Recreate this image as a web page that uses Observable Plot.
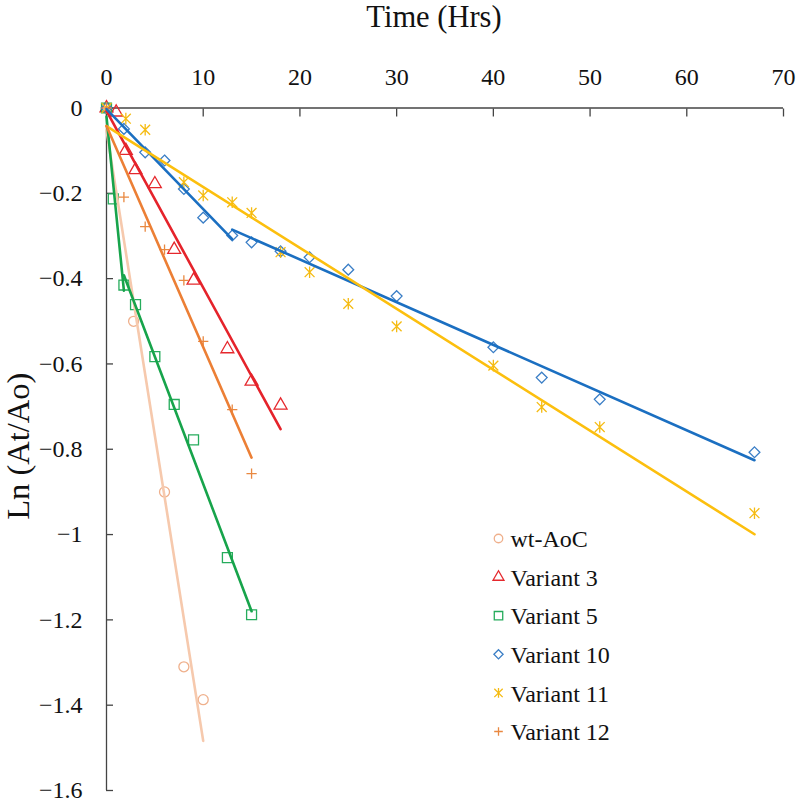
<!DOCTYPE html>
<html><head><meta charset="utf-8">
<script src="https://cdn.jsdelivr.net/npm/d3@7"></script>
<script src="https://cdn.jsdelivr.net/npm/@observablehq/plot@0.6"></script>
<style>
html,body{margin:0;padding:0;background:#fff;}
#chart svg{display:block;}
#chart svg text{font-family:"Liberation Serif","Times New Roman",serif;}
</style>
</head><body><div id="chart"></div>
<script>
// ---------- data ----------
const seriesNames   = ["wt-AoC", "Variant 3", "Variant 5", "Variant 10", "Variant 11", "Variant 12"];
const lineColors    = ["#f6c9ad", "#e5232b", "#17a44b", "#1b6fc1", "#fcbf0e", "#ec7f35"];
const markerColors  = ["#efb08c", "#e5282d", "#26ac5c", "#3a7ec6", "#f5bb12", "#e98840"];
const seriesSymbols = ["circle", "triangle", "square", "diamond", "star", "plus"];
const segmentBreaks = [null, null, 1.8, 13, null, null]; // piecewise fits (point at break shared)

const wtTime   = [0, 2.8, 6, 8, 10];
const wtValue  = [0, -0.50, -0.90, -1.31, -1.387];
const v3Time   = [0, 1, 2, 3, 5, 7, 9, 12.5, 15, 18];
const v3Value  = [0, -0.01, -0.10, -0.145, -0.178, -0.332, -0.404, -0.565, -0.641, -0.697];
const v5Time   = [0, 0.7, 1.8, 3, 5, 7, 9, 12.5, 15];
const v5Value  = [0, -0.213, -0.415, -0.461, -0.583, -0.695, -0.778, -1.054, -1.188];
const v10Time  = [0, 1.8, 4, 6, 8, 10, 13, 15, 18, 21, 25, 30, 40, 45, 51, 67];
const v10Value = [0, -0.049, -0.104, -0.123, -0.19, -0.257, -0.299, -0.315, -0.336, -0.350, -0.379, -0.441, -0.561, -0.632, -0.683, -0.807];
const v11Time  = [0, 2, 4, 8, 10, 13, 15, 18, 21, 25, 30, 40, 45, 51, 67];
const v11Value = [0, -0.025, -0.051, -0.174, -0.205, -0.221, -0.246, -0.338, -0.385, -0.459, -0.512, -0.604, -0.701, -0.748, -0.95];
const v12Time  = [0, 1.8, 4, 6, 8, 10, 13, 15];
const v12Value = [0, -0.209, -0.278, -0.332, -0.404, -0.547, -0.707, -0.857];

const xTicks = [0, 10, 20, 30, 40, 50, 60, 70];
const yTicks = [0, -0.2, -0.4, -0.6, -0.8, -1, -1.2, -1.4, -1.6];
const xTitle = "Time (Hrs)";
const yTitle = "Ln (At/Ao)";

// ---------- build ----------
const times  = [wtTime, v3Time, v5Time, v10Time, v11Time, v12Time];
const values = [wtValue, v3Value, v5Value, v10Value, v11Value, v12Value];

const starSymbol = {
  draw(ctx, size) {
    const r = Math.sqrt(size / Math.PI);
    const a = r * 0.85;
    ctx.moveTo(-a, -a); ctx.lineTo(a, a);
    ctx.moveTo(-a, a);  ctx.lineTo(a, -a);
    ctx.moveTo(0, -r);  ctx.lineTo(0, r);
  }
};
const diamondSymbol = {
  draw(ctx, size) {
    const r = Math.sqrt(size / Math.PI);
    ctx.moveTo(0, -r); ctx.lineTo(r, 0); ctx.lineTo(0, r); ctx.lineTo(-r, 0); ctx.closePath();
  }
};
const symbolOf = s => s === "star" ? starSymbol : s === "diamond" ? diamondSymbol : s;
const radiusOf = {circle: 5, triangle: 4.8, square: 5.6, diamond: 5.4, star: 5.8, plus: 3.4};

const axisColor = "#444";
const textColor = "#111";
const font = "'Liberation Serif', 'Times New Roman', serif";
const fmt = d => d < 0 ? "\u2212" + String(-d) : String(d);

const marks = [];

// axis lines
marks.push(Plot.ruleY([0], {stroke: axisColor, strokeWidth: 1.3}));
marks.push(Plot.ruleX([0], {stroke: axisColor, strokeWidth: 1.3}));
// inward ticks
marks.push(Plot.axisX(xTicks, {anchor: "top", tickSize: 8, dy: 8, fill: "none", stroke: axisColor, strokeWidth: 1.3, label: null}));
marks.push(Plot.axisY(yTicks, {anchor: "left", tickSize: 7, dx: 7, fill: "none", stroke: axisColor, strokeWidth: 1.3, label: null}));
// tick labels
marks.push(Plot.axisX(xTicks, {anchor: "top", tickSize: 0, tickPadding: 23, fontSize: 24, fontFamily: font, fill: textColor, label: null, tickFormat: fmt}));
marks.push(Plot.axisY(yTicks, {anchor: "left", tickSize: 0, tickPadding: 24, fontSize: 24, fontFamily: font, fill: textColor, label: null, tickFormat: fmt}));
// axis titles
marks.push(Plot.text([xTitle], {text: d => d, frameAnchor: "top", textAnchor: "middle", lineAnchor: "middle",
  dx: -11, dy: -91, fontSize: 30.5, fontFamily: font, fill: textColor}));
marks.push(Plot.text([yTitle], {text: d => d, frameAnchor: "left", textAnchor: "middle", lineAnchor: "middle",
  dx: -87.5, dy: -3, rotate: -90, fontSize: 32.5, fontFamily: font, fill: textColor}));

// markers
seriesNames.forEach((name, i) => {
  const pts = times[i].map((t, j) => ({t, v: values[i][j]}));
  marks.push(Plot.dot(pts, {x: "t", y: "v", symbol: symbolOf(seriesSymbols[i]), r: radiusOf[seriesSymbols[i]],
    stroke: markerColors[i], fill: "none", strokeWidth: 1.3}));
});

// least-squares trend lines (piecewise where the reference breaks)
seriesNames.forEach((name, i) => {
  const b = segmentBreaks[i];
  const rows = [];
  times[i].forEach((t, j) => {
    const v = values[i][j];
    if (b == null) rows.push({t, v, seg: 0});
    else {
      if (t <= b) rows.push({t, v, seg: 0});
      if (t >= b) rows.push({t, v, seg: 1});
    }
  });
  marks.push(Plot.linearRegressionY(rows, {x: "t", y: "v", z: "seg", stroke: lineColors[i], strokeWidth: 2.6, ci: 0}));
});

// legend (inside plot, lower right)
seriesNames.forEach((name, i) => {
  const dy = 430.5 + i * 38.6;
  marks.push(Plot.dot([name], {frameAnchor: "top-left", dx: 392, dy, symbol: symbolOf(seriesSymbols[i]),
    r: radiusOf[seriesSymbols[i]] * 0.85, stroke: markerColors[i], fill: "none", strokeWidth: 1.3}));
  marks.push(Plot.text([name], {text: d => d, frameAnchor: "top-left", dx: 404, dy: dy + 1, textAnchor: "start",
    lineAnchor: "middle", fontSize: 24, fontFamily: font, fill: textColor}));
});

const chart = Plot.plot({
  width: 800,
  height: 804,
  marginTop: 107.5,
  marginLeft: 106,
  marginRight: 17,
  marginBottom: 14,
  style: {fontFamily: font, background: "#fff", color: textColor},
  x: {domain: [0, 70], axis: null},
  y: {domain: [-1.6, 0], axis: null},
  marks
});
document.getElementById("chart").appendChild(chart);
</script>
</body></html>
